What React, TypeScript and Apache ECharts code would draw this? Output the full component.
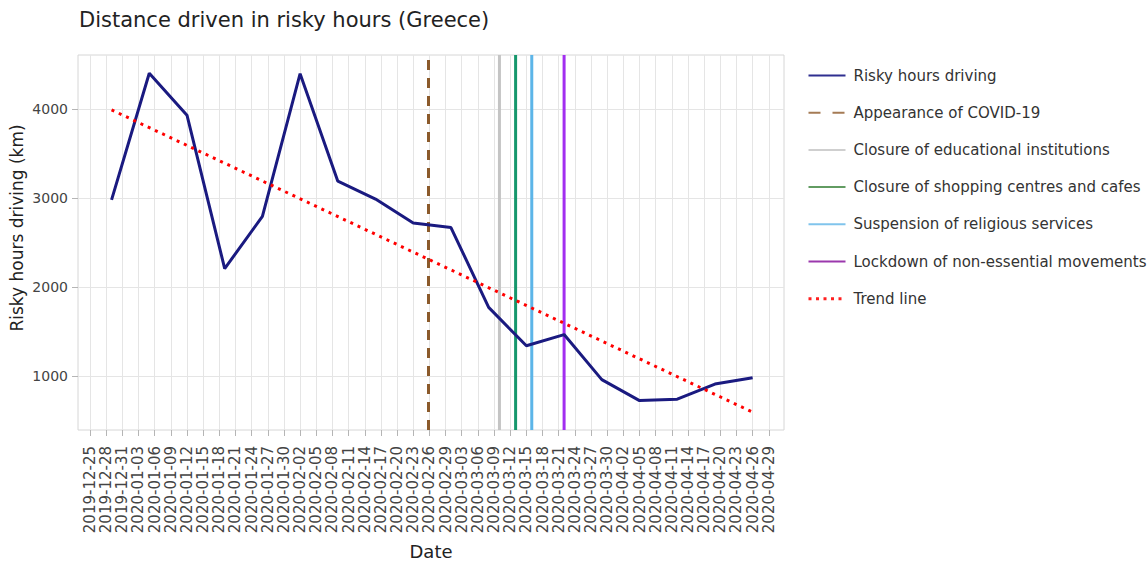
import React, { useEffect, useRef } from 'react';
import * as echarts from 'echarts';

// Weekly observations
const dates = [
  '2019-12-29', '2020-01-05', '2020-01-12', '2020-01-19', '2020-01-26', '2020-02-02',
  '2020-02-09', '2020-02-16', '2020-02-23', '2020-03-01', '2020-03-08', '2020-03-15',
  '2020-03-22', '2020-03-29', '2020-04-05', '2020-04-12', '2020-04-19', '2020-04-26',
];
const riskyKm = [
  2980, 4400, 3930, 2210, 2795, 4395,
  3190, 2990, 2720, 2670, 1775, 1345,
  1470, 965, 730, 745, 915, 985,
];

// Trend line end points
const trendDates = ['2019-12-29', '2020-04-26'];
const trendKm = [3990, 600];

// Events (vertical lines)
const eventNames = [
  'Appearance of COVID-19',
  'Closure of educational institutions',
  'Closure of shopping centres and cafes',
  'Suspension of religious services',
  'Lockdown of non-essential movements',
];
const eventDates = ['2020-02-25 20:00', '2020-03-10', '2020-03-13', '2020-03-16', '2020-03-22'];
const eventColors = ['#8b5a2b', '#c4c4c4', '#16976c', '#5cb5e8', '#a22ef0'];
const eventLegendColors = ['#a57b55', '#cfcfcf', '#629c62', '#80c4ec', '#9b38ad'];

const seriesName = 'Risky hours driving';
const trendName = 'Trend line';

// Axis ticks
const xTickDates = [
  '2019-12-25', '2019-12-28', '2019-12-31', '2020-01-03', '2020-01-06', '2020-01-09',
  '2020-01-12', '2020-01-15', '2020-01-18', '2020-01-21', '2020-01-24', '2020-01-27',
  '2020-01-30', '2020-02-02', '2020-02-05', '2020-02-08', '2020-02-11', '2020-02-14',
  '2020-02-17', '2020-02-20', '2020-02-23', '2020-02-26', '2020-02-29', '2020-03-03',
  '2020-03-06', '2020-03-09', '2020-03-12', '2020-03-15', '2020-03-18', '2020-03-21',
  '2020-03-24', '2020-03-27', '2020-03-30', '2020-04-02', '2020-04-05', '2020-04-08',
  '2020-04-11', '2020-04-14', '2020-04-17', '2020-04-20', '2020-04-23', '2020-04-26',
  '2020-04-29',
];
const yTicks = [1000, 2000, 3000, 4000];
const xRange = ['2019-12-22 18:30', '2020-05-01 19:40'];
const yRange = [400, 4605];

const FONT = 'DejaVu Sans';
const GRID_COLOR = '#e5e5e5';

function ts(s: string): number {
  const [d, t] = s.split(' ');
  const [y, m, dd] = d.split('-').map(Number);
  const [h, mi] = t ? t.split(':').map(Number) : [0, 0];
  return Date.UTC(y, m - 1, dd, h, mi);
}

export default function App() {
  const ref = useRef<HTMLDivElement>(null);
  useEffect(() => {
    if (!ref.current) return;
    const chart = echarts.init(ref.current, undefined, { renderer: 'svg' });
    const xTicks = xTickDates.map(ts);

    const eventSeries = eventNames.map((name, i) => ({
      name,
      type: 'line',
      data: [
        [ts(eventDates[i]), yRange[0]],
        [ts(eventDates[i]), yRange[1]],
      ],
      symbol: 'none',
      showSymbol: false,
      z: 3,
      lineStyle: {
        color: eventColors[i],
        width: 3,
        type: i === 0 ? [10, 8] : 'solid',
      },
      itemStyle: { color: eventColors[i] },
    }));

    const legendData = [
      { name: seriesName, lineStyle: { color: '#2f2f90', width: 2 } },
      ...eventNames.map((name, i) => ({
        name,
        lineStyle: { color: eventLegendColors[i], width: 2, type: i === 0 ? [12, 12] : 'solid' },
      })),
      { name: trendName, lineStyle: { color: '#ff2020', width: 3, type: [3, 4.5] } },
    ];

    chart.setOption({
      animation: false,
      backgroundColor: '#ffffff',
      title: {
        text: 'Distance driven in risky hours (Greece)',
        left: 74,
        top: 4,
        textStyle: { fontFamily: FONT, fontSize: 21, fontWeight: 'normal', color: '#222' },
      },
      legend: {
        orient: 'vertical',
        left: 807,
        top: 68,
        padding: 0,
        itemWidth: 37,
        itemHeight: 15,
        itemGap: 22.2,
        data: legendData,
        itemStyle: { opacity: 0 },
        textStyle: { fontFamily: FONT, fontSize: 15, color: '#333', lineHeight: 15, padding: [0, 0, 0, 3] },
      },
      grid: {
        left: 78,
        right: 364,
        top: 55,
        bottom: 134,
        show: true,
        borderColor: '#d6d6d6',
        borderWidth: 1,
        z: 0,
      },
      xAxis: {
        type: 'value',
        min: ts(xRange[0]),
        max: ts(xRange[1]),
        axisLine: { show: false },
        axisTick: { show: true, customValues: xTicks, length: 6, lineStyle: { color: '#b5b5b5' } },
        axisLabel: {
          customValues: xTicks,
          rotate: 90,
          margin: 16,
          fontFamily: FONT,
          fontSize: 15,
          color: '#444',
          formatter: (v: number) => new Date(v).toISOString().slice(0, 10),
        },
        splitLine: { show: false },
        minorSplitLine: { show: false },
      },
      yAxis: {
        type: 'value',
        min: yRange[0],
        max: yRange[1],
        axisLine: { show: false },
        axisTick: { show: true, customValues: yTicks, length: 6, lineStyle: { color: '#b5b5b5' } },
        axisLabel: {
          customValues: yTicks,
          margin: 10,
          fontFamily: FONT,
          fontSize: 14,
          color: '#444',
          formatter: (v: number) => String(v),
        },
        splitLine: { show: true, lineStyle: { color: GRID_COLOR, width: 1 } },
      },
      graphic: [
        {
          type: 'text',
          x: 17,
          y: 228,
          rotation: Math.PI / 2,
          style: {
            text: 'Risky hours driving (km)',
            fontFamily: FONT,
            fontSize: 17,
            fill: '#222',
            textAlign: 'center',
            textVerticalAlign: 'middle',
          },
        },
        {
          type: 'text',
          x: 431,
          y: 551,
          style: {
            text: 'Date',
            fontFamily: FONT,
            fontSize: 18,
            fill: '#222',
            textAlign: 'center',
            textVerticalAlign: 'middle',
          },
        },
      ],
      series: [
        {
          name: '__xgrid',
          type: 'line',
          data: [],
          z: 0,
          silent: true,
          markLine: {
            z: 0,
            silent: true,
            symbol: 'none',
            animation: false,
            label: { show: false },
            lineStyle: { color: GRID_COLOR, width: 1, type: 'solid' },
            emphasis: { disabled: true },
            data: xTicks.map((v) => ({ xAxis: v })),
          },
        },
        ...eventSeries,
        {
          name: seriesName,
          type: 'line',
          data: dates.map((d, i) => [ts(d), riskyKm[i]]),
          symbol: 'none',
          showSymbol: false,
          z: 4,
          lineStyle: { color: '#1a1a80', width: 3 },
          itemStyle: { color: '#1a1a80' },
        },
        {
          name: trendName,
          type: 'line',
          data: trendDates.map((d, i) => [ts(d), trendKm[i]]),
          symbol: 'none',
          showSymbol: false,
          z: 5,
          lineStyle: { color: '#ff0000', width: 3, type: [3, 5], cap: 'butt' },
          itemStyle: { color: '#ff0000' },
        },
      ],
    });
    return () => chart.dispose();
  }, []);
  return (
    <div
      ref={ref}
      style={{ position: 'absolute', left: 0, top: 0, width: 1148, height: 564 }}
    />
  );
}
